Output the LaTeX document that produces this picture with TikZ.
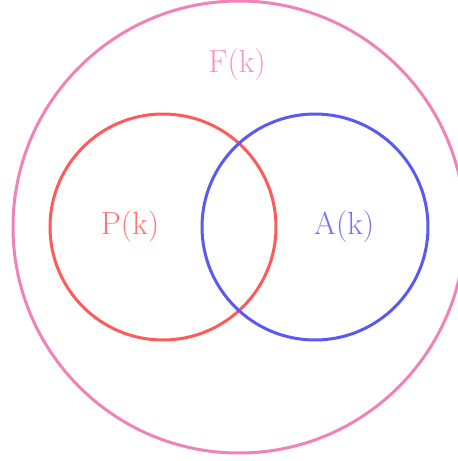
\documentclass[tikz,border=0pt]{standalone}
\usepackage{xcolor}
\usepackage{tikz}
\usetikzlibrary{positioning, calc}
\definecolor{fpink}{RGB}{240,130,185}
\definecolor{pred}{RGB}{255,90,90}
\definecolor{ablue}{RGB}{90,90,240}
\tikzset{
  setring/.style = {
    circle, draw, line width=3pt, inner sep=0pt, fill=none
  },
  setlabel/.style = {
    font=\fontsize{32}{38}\selectfont, inner sep=0pt
  }
}
\begin{document}
\begin{tikzpicture}[x=1pt, y=-1pt]
  \useasboundingbox (0,0) rectangle (458,461);
  \clip (0,0) rectangle (458,461);
  % Sets
  \node[setring, draw=fpink, minimum size=452pt] (F) at (239,227) {};
  \node[setring, draw=pred, minimum size=226pt] (P) at (163,227) {};
  \node[setring, draw=ablue, minimum size=226pt] (A) at (315,227) {};

  % Labels
  \node[setlabel, text=fpink!85] (Flab) at (237,65) {F(k)};
  \node[setlabel, text=pred!85] (Plab) at (130,227) {P(k)};
  \node[setlabel, text=ablue!85] (Alab) at (344,227) {A(k)};
\end{tikzpicture}
\end{document}
